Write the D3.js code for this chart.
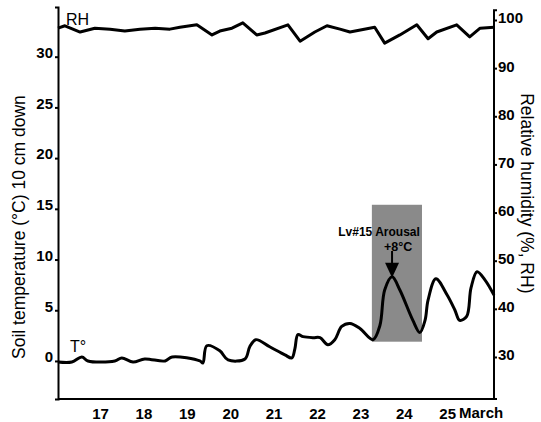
<!DOCTYPE html>
<html><head><meta charset="utf-8">
<script src="https://cdn.jsdelivr.net/npm/d3@7"></script>
<style>
html,body{margin:0;padding:0;background:#fff;}
svg{display:block;}
</style></head>
<body>
<svg id="c" width="541" height="422"></svg>
<script>
// ---- data ----
const tempDays = [16.03,16.35,16.58,16.72,17.34,17.50,17.76,18.03,18.50,18.66,19.30,19.37,19.46,19.76,19.95,20.34,20.45,20.59,20.91,21.26,21.42,21.49,21.56,21.68,21.91,22.07,22.25,22.41,22.57,22.76,22.99,23.29,23.45,23.56,23.73,23.91,24.21,24.37,24.49,24.56,24.74,25.00,25.18,25.29,25.45,25.55,25.69,25.87,26.08];
const tempValues = [-0.1,-0.1,0.4,0.0,0.0,0.3,-0.1,0.2,0.0,0.4,0.0,-0.2,1.5,1.0,0.1,0.2,1.4,2.1,1.4,0.6,0.3,1.2,2.6,2.4,2.3,2.3,1.6,2.1,3.4,3.7,3.2,2.1,3.5,7.0,8.3,7.0,4.0,2.8,4.0,6.0,8.1,6.5,5.0,4.0,4.4,7.2,8.8,8.0,6.5];
const rhDays = [16.03,16.19,16.54,16.88,17.23,17.57,17.92,18.27,18.61,18.84,19.23,19.58,19.76,20.04,20.29,20.61,20.80,21.33,21.61,21.95,22.23,22.53,22.76,23.33,23.56,23.91,24.30,24.56,24.76,25.22,25.52,25.76,26.08];
const rhValues = [98.3,98.8,97.5,98.3,98.1,97.7,98.1,98.3,98.1,98.5,99.0,96.9,97.7,98.3,99.4,96.9,97.3,99.0,95.6,97.5,98.8,98.1,97.5,98.5,95.2,96.9,99.0,96.1,97.5,99.0,96.5,98.3,98.5];
const dayTicks = [17,18,19,20,21,22,23,24,25];
const tempTicks = [0,5,10,15,20,25,30];
const rhTicks = [30,40,50,60,70,80,90,100];
const arousalWindow = [23.265, 24.42];
const arousalTempRange = [1.9, 15.4];
const arousalDay = 23.73;
const arousalPeak = 8.2;
const arousalLabel = "Lv#15 Arousal";
const arousalDelta = "+8°C";

// ---- layout ----
const L = 58, R = 494, T = 7, B = 399;
const svg = d3.select("#c");
const x = d3.scaleLinear().domain([16.03, 26.08]).range([L, R]);
const yT = d3.scaleLinear().domain([-3.75, 34.9]).range([B, T]);
const yR = d3.scaleLinear().domain([21.27, 102.7]).range([B, T]);

const narrow = "'Liberation Sans Narrow', 'Arial Narrow', 'Liberation Sans', Arial, sans-serif";
const sans = "'Liberation Sans', Arial, Helvetica, sans-serif";

// shaded arousal window
svg.append("rect")
  .attr("x", x(arousalWindow[0])).attr("width", x(arousalWindow[1]) - x(arousalWindow[0]))
  .attr("y", yT(arousalTempRange[1])).attr("height", yT(arousalTempRange[0]) - yT(arousalTempRange[1]))
  .attr("fill", "#8a8a8a");

// axes
const leftAxis = d3.axisLeft(yT).tickValues(tempTicks).tickSize(3).tickPadding(2).tickFormat(d3.format("d"));
const gl = svg.append("g").attr("transform", `translate(${L},0)`).call(leftAxis);
const rightAxis = d3.axisRight(yR).tickValues(rhTicks).tickSize(3).tickPadding(1).tickFormat(d3.format("d"));
const gr = svg.append("g").attr("transform", `translate(${R},0)`).call(rightAxis);
const bottomAxis = d3.axisBottom(x).tickValues(dayTicks).tickSize(0).tickPadding(9).tickFormat(d3.format("d"));
const gb = svg.append("g").attr("transform", `translate(0,${B})`).call(bottomAxis);

[gl, gr, gb].forEach(g => {
  g.select(".domain").attr("stroke", "#000").attr("stroke-width", 2);
  g.selectAll(".tick line").attr("stroke", "#000").attr("stroke-width", 2);
  g.selectAll(".tick text").attr("fill", "#000")
    .style("font-family", sans).style("font-weight", "bold").style("font-size", "15px");
});
gl.selectAll(".tick text").attr("dy", "0.05em");
gr.selectAll(".tick text").attr("dy", "0.2em");
gb.selectAll(".tick text").attr("dy", "0.71em");
gr.select(".domain").attr("d", `M3,${yR(102.0)}H0V${B}H3`);
gb.select(".domain").attr("d", `M${L},0H${R}`);

svg.append("text").attr("x", 459).attr("y", 418)
  .style("font-family", sans).style("font-weight", "bold").style("font-size", "15px").text("March");

// lines
const tLine = d3.line().x((d, i) => x(tempDays[i])).y(d => yT(d)).curve(d3.curveCatmullRom.alpha(0.5));
svg.append("path").datum(tempValues).attr("d", tLine)
  .attr("fill", "none").attr("stroke", "#000").attr("stroke-width", 3).attr("stroke-linejoin", "round");
const rLine = d3.line().x((d, i) => x(rhDays[i])).y(d => yR(d));
svg.append("path").datum(rhValues).attr("d", rLine)
  .attr("fill", "none").attr("stroke", "#000").attr("stroke-width", 3).attr("stroke-linejoin", "round");

// series labels
svg.append("text").attr("x", 66).attr("y", 25).style("font-family", sans).style("font-size", "16px").text("RH");
svg.append("text").attr("x", 70).attr("y", 352).style("font-family", sans).style("font-size", "16px").text("T°");

// annotation
const ax = x(arousalDay);
svg.append("text").attr("x", ax - 13).attr("y", 236).attr("text-anchor", "middle")
  .style("font-family", narrow).style("font-weight", "bold").style("font-size", "12px").text(arousalLabel);
svg.append("text").attr("x", ax + 6).attr("y", 251).attr("text-anchor", "middle")
  .style("font-family", sans).style("font-weight", "bold").style("font-size", "12.5px").text(arousalDelta);
const tip = yT(arousalPeak);
svg.append("line").attr("x1", ax).attr("x2", ax).attr("y1", 251).attr("y2", tip - 10)
  .attr("stroke", "#000").attr("stroke-width", 2);
svg.append("path").attr("d", `M${ax-7},${tip-15}L${ax+7},${tip-15}L${ax},${tip}Z`).attr("fill", "#000");

// axis titles
svg.append("text").attr("transform", `translate(25,${(yT(-1.6)+yT(28))/2}) rotate(-90)`)
  .attr("text-anchor", "middle").style("font-family", sans).style("font-size", "17.5px")
  .text("Soil temperature (°C) 10 cm down");
svg.append("text").attr("transform", `translate(521,${(yR(42)+yR(86))/2}) rotate(90)`)
  .attr("text-anchor", "middle").style("font-family", sans).style("font-size", "17.5px")
  .text("Relative humidity (%, RH)");
</script>
</body></html>
